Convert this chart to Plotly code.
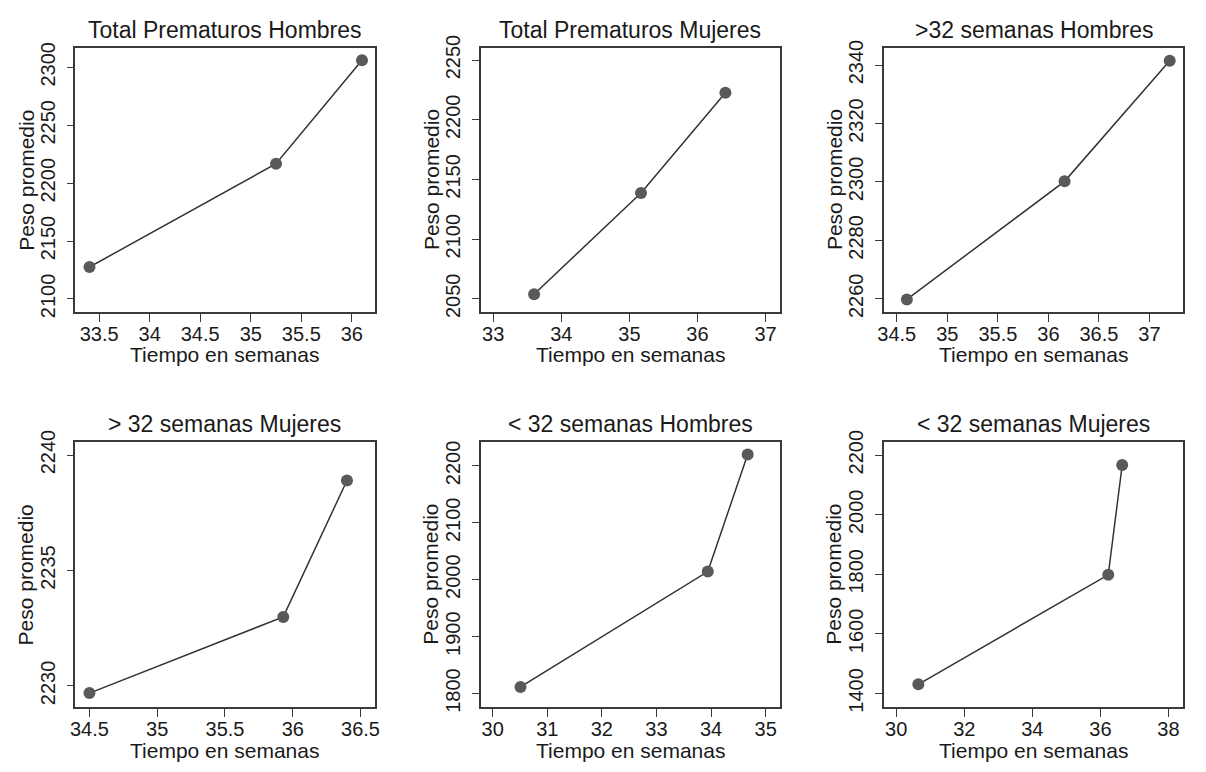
import plotly.graph_objects as go

titles = ["Total Prematuros Hombres", "Total Prematuros Mujeres", ">32 semanas Hombres",
          "> 32 semanas Mujeres", "< 32 semanas Hombres", "< 32 semanas Mujeres"]
x_label = "Tiempo en semanas"
y_label = "Peso promedio"

x_tph = [33.405, 35.25, 36.1]
y_tph = [2127.6, 2216.8, 2306.2]
x_tpm = [33.6, 35.17, 36.41]
y_tpm = [2053.8, 2138.7, 2222.7]
x_m32h = [34.6, 36.16, 37.2]
y_m32h = [2259.8, 2300.2, 2341.5]
x_m32m = [34.5, 35.93, 36.4]
y_m32m = [2229.69, 2232.99, 2238.9]
x_l32h = [30.51, 33.94, 34.67]
y_l32h = [1811.5, 2014.3, 2219.9]
x_l32m = [30.65, 36.23, 36.64]
y_l32m = [1430.8, 1798.4, 2167.0]

xs = [x_tph, x_tpm, x_m32h, x_m32m, x_l32h, x_l32m]
ys = [y_tph, y_tpm, y_m32h, y_m32m, y_l32h, y_l32m]

x_ranges = [[33.265, 36.225], [32.815, 37.21], [34.37, 37.336],
            [34.396, 36.604], [29.78, 35.26], [29.63, 38.44]]
y_ranges = [[2088.8, 2316.6], [2039, 2260], [2255.5, 2345.8],
            [2229.08, 2240.56], [1776, 2241.7], [1354, 2243.6]]
x_dticks = [0.5, 1, 0.5, 0.5, 1, 2]
y_dticks = [50, 50, 20, 5, 100, 200]

W, H = 1206, 772
px_x = [(70, 372), (479, 781), (885.7, 1188.3)]
px_y = [(36, 306.5), (440, 711.7)]

TXT = "#1a1a1a"
FONT = "Liberation Sans, Arial, sans-serif"

fig = go.Figure()
layout = dict(width=W, height=H, margin=dict(l=0, r=0, t=0, b=0),
              paper_bgcolor="white", plot_bgcolor="white", showlegend=False,
              font=dict(family=FONT, color=TXT, size=20))
annotations = []
for i in range(6):
    r, c = divmod(i, 3)
    k = "" if i == 0 else str(i + 1)
    fig.add_trace(go.Scatter(x=xs[i], y=ys[i], mode="lines+markers", xaxis="x" + k, yaxis="y" + k,
                             line=dict(color="#333333", width=1.5),
                             marker=dict(color="#595959", size=12)))
    x0, x1 = px_x[c]
    y0, y1 = px_y[r]
    axis_common = dict(showline=True, linecolor="#3a3a3a", linewidth=1.5, mirror=True,
                       ticks="outside", tickcolor="#3a3a3a", tickwidth=1.2,
                       showgrid=False, zeroline=False,
                       tickfont=dict(size=20, family=FONT, color=TXT))
    layout["xaxis" + k] = dict(axis_common, domain=[x0 / W, x1 / W], range=x_ranges[i],
                               anchor="y" + k, dtick=x_dticks[i], tick0=0, ticklen=8,
                               ticklabelstandoff=-5)
    layout["yaxis" + k] = dict(axis_common, domain=[1 - y1 / H, 1 - y0 / H], range=y_ranges[i],
                               anchor="x" + k, dtick=y_dticks[i], tick0=0, tickangle=-90,
                               ticklen=7, ticklabelstandoff=4)
    # panel title
    annotations.append(dict(text=titles[i], xref="paper", yref="paper",
                            x=(x0 + x1) / 2 / W, y=1 - (y0 - 19) / H,
                            xanchor="center", yanchor="middle", showarrow=False,
                            font=dict(size=23, family=FONT, color=TXT)))
    # x axis title
    annotations.append(dict(text=x_label, xref="paper", yref="paper",
                            x=(x0 + x1) / 2 / W, y=1 - (y1 + 44) / H,
                            xanchor="center", yanchor="middle", showarrow=False,
                            font=dict(size=21, family=FONT, color=TXT)))
    # y axis title
    annotations.append(dict(text=y_label, xref="paper", yref="paper", textangle=-90,
                            x=(x0 - 50) / W, y=1 - (y0 + y1) / 2 / H,
                            xanchor="center", yanchor="middle", showarrow=False,
                            font=dict(size=21, family=FONT, color=TXT)))
layout["annotations"] = annotations
fig.update_layout(**layout)
fig.write_html("out.html", config={"displayModeBar": False},
               post_script="document.body.style.margin='0';")
